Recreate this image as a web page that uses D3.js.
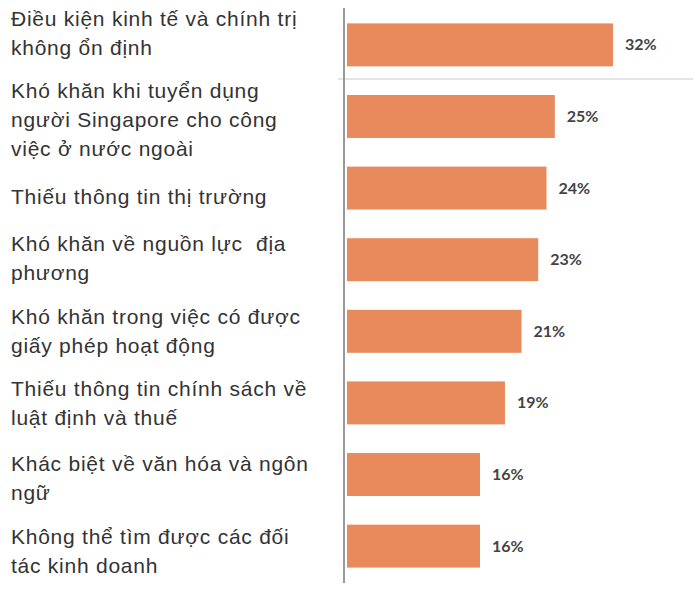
<!DOCTYPE html>
<html lang="vi">
<head>
  <meta charset="UTF-8">
  <title>Khó khăn khi mở rộng ra nước ngoài</title>
  <script src="https://d3js.org/d3.v7.min.js"></script>
  <style>
    body { margin: 0; padding: 0; background: #fff; }
    svg { display: block; }
    text.cat { white-space: pre; }
  </style>
</head>
<body>
  <svg width="693" height="596"></svg>

  <script>
    // categories, each split into the lines shown in the chart
    const categories = [
      ["Điều kiện kinh tế và chính trị", "không ổn định"],
      ["Khó khăn khi tuyển dụng", "người Singapore cho công", "việc ở nước ngoài"],
      ["Thiếu thông tin thị trường"],
      ["Khó khăn về nguồn lực  địa", "phương"],
      ["Khó khăn trong việc có được", "giấy phép hoạt động"],
      ["Thiếu thông tin chính sách về", "luật định và thuế"],
      ["Khác biệt về văn hóa và ngôn", "ngữ"],
      ["Không thể tìm được các đối", "tác kinh doanh"]
    ];
    const values = [32, 25, 24, 23, 21, 19, 16, 16];

    const svg = d3.select("svg");
    const axisX = 344, barX0 = 347;
    // the labels in the original sit a bit off the bar centre for some rows
    const labelNudge = [-12, 3, 8, -2, -1, 0, 3, 4];

    const y = d3.scaleBand()
      .domain(d3.range(values.length))
      .range([8, 583])
      .paddingInner(0.4)
      .paddingOuter(0.215);

    const x = d3.scaleLinear()
      .domain([0, 32])
      .range([barX0, 613]);

    // separator under the first row
    svg.append("line")
      .attr("x1", 338).attr("x2", 693)
      .attr("y1", 79).attr("y2", 79)
      .attr("stroke", "#dcdcdc")
      .attr("stroke-width", 1.5);

    svg.selectAll("rect.bar")
      .data(values)
      .enter().append("rect")
      .attr("class", "bar")
      .attr("x", x(0))
      .attr("y", (d, i) => y(i))
      .attr("width", d => x(d) - x(0))
      .attr("height", y.bandwidth())
      .attr("fill", "#e88a5c");

    svg.selectAll("text.val")
      .data(values)
      .enter().append("text")
      .attr("class", "val")
      .attr("x", d => x(d) + 12)
      .attr("y", (d, i) => y(i) + y.bandwidth() / 2 + 5.5)
      .style("font-family", "Lato, 'DejaVu Sans', sans-serif")
      .style("font-weight", "bold")
      .style("font-size", "16px")
      .attr("fill", "#444")
      .text(d => d + "%");

    // category labels on the left
    const lineH = 29;
    const labels = svg.selectAll("text.cat")
      .data(categories)
      .enter().append("text")
      .attr("class", "cat")
      .style("font-family", "'Liberation Sans', Arial, sans-serif")
      .style("font-size", "21px")
      .style("letter-spacing", "0.75px")
      .attr("fill", "#333");

    labels.each(function (lines, i) {
      const cy = y(i) + y.bandwidth() / 2;
      const first = cy - (lines.length - 1) * lineH / 2 + 8 + labelNudge[i];
      d3.select(this).selectAll("tspan")
        .data(lines)
        .enter().append("tspan")
        .attr("x", 11)
        .attr("y", (d, k) => first + k * lineH)
        .text(d => d);
    });

    // vertical axis line
    svg.append("line")
      .attr("x1", axisX).attr("x2", axisX)
      .attr("y1", 8).attr("y2", 583)
      .attr("stroke", "#999")
      .attr("stroke-width", 2);
  </script>
</body>
</html>
